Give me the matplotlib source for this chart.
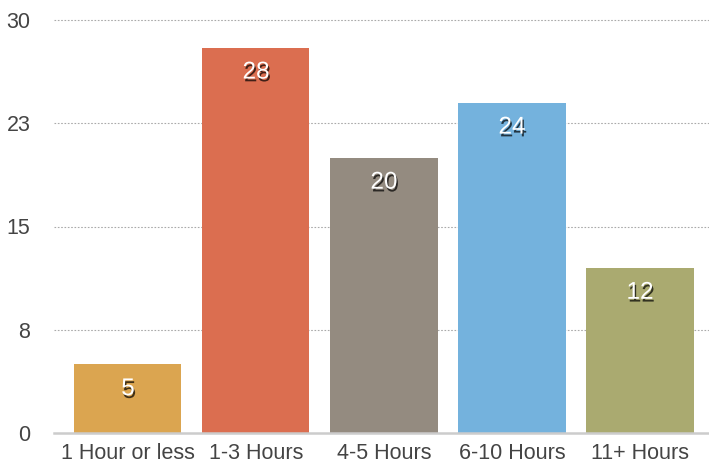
import matplotlib.pyplot as plt
import matplotlib.patheffects as pe

plt.rcParams['font.family'] = ['Liberation Sans', 'DejaVu Sans']

categories = ['1 Hour or less', '1-3 Hours', '4-5 Hours', '6-10 Hours', '11+ Hours']
values = [5, 28, 20, 24, 12]
colors = ['#DBA550', '#DB6E50', '#948B80', '#74B2DD', '#AAAA70']
ytick_vals = [0, 7.5, 15, 22.5, 30]
ytick_labels = ['0', '8', '15', '23', '30']

fig = plt.figure(figsize=(7.09, 4.66), dpi=100)
ax = fig.add_axes([54 / 709, 33 / 466, 655 / 709, 413 / 466])

x = list(range(len(categories)))
ax.bar(x, values, width=0.836, color=colors, zorder=2)

# value labels inside bars, white with a soft dark shadow
for xi, v in zip(x, values):
    ax.annotate(str(v), (xi, v), xytext=(0, -25), textcoords='offset pixels',
                ha='center', va='center', color='white', fontsize=17.5,
                path_effects=[pe.withSimplePatchShadow(offset=(1, -2), shadow_rgbFace='black', alpha=0.7)],
                zorder=3)

ax.set_xlim(-0.578, 4.539)
ax.set_ylim(0, 30)
ax.set_yticks(ytick_vals, ytick_labels)
ax.set_xticks(x, categories)

for y in ytick_vals[1:]:
    ax.axhline(y, color='#aaaaaa', linestyle=(0, (1.5, 1.5)), linewidth=0.8, zorder=1, clip_on=False)

for s in ['top', 'right', 'left']:
    ax.spines[s].set_visible(False)
ax.spines['bottom'].set_color('#cccccc')
ax.spines['bottom'].set_linewidth(1.8)
ax.spines['bottom'].set_zorder(3)

ax.tick_params(axis='both', length=0, labelsize=15.5, labelcolor='#444444')
ax.tick_params(axis='y', pad=17)
ax.tick_params(axis='x', pad=7)

fig.savefig('out.png', dpi=100)
